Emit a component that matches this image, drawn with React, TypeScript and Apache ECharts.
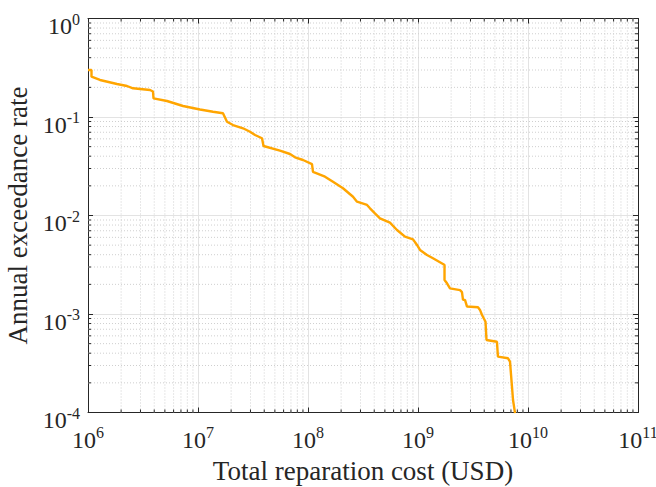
import React, { useEffect, useRef } from "react";
import * as echarts from "echarts";

// Exceedance curve
const costUSD = [
  1.0e6, 1.076e6, 1.076e6, 1.285e6, 1.835e6, 2.262e6, 2.566e6, 3.662e6, 3.899e6, 3.94e6,
  5.224e6, 7.31e6, 1.043e7, 1.368e7, 1.687e7, 1.835e7, 2.08e7, 2.566e7, 2.97e7, 3.3e7,
  3.82e7, 3.94e7, 5.56e7, 6.86e7, 7.62e7, 9.01e7, 1.087e8, 1.11e8, 1.427e8, 1.687e8,
  2.08e8, 2.566e8, 2.79e8, 3.44e8, 3.66e8, 4.06e8, 4.51e8, 5.56e8, 6.44e8, 7.62e8,
  9.01e8, 9.79e8, 1.043e9, 1.207e9, 1.368e9, 1.687e9, 1.742e9, 1.742e9, 1.835e9, 1.954e9,
  2.41e9, 2.51e9, 2.566e9, 2.674e9, 2.79e9, 3.51e9, 3.66e9, 3.82e9, 4.11e9, 4.195e9,
  5.22e9, 5.33e9, 6.58e9, 6.86e9, 7.31e9, 7.62e9,
];
const exceedanceRate = [
  0.3, 0.3, 0.2565, 0.2376, 0.2163, 0.2064, 0.1956, 0.188, 0.1815, 0.1548,
  0.1453, 0.1293, 0.1192, 0.1132, 0.1091, 0.0896, 0.0829, 0.0768, 0.0709, 0.0657,
  0.0608, 0.0508, 0.0455, 0.0421, 0.039, 0.0366, 0.0333, 0.0277, 0.0248, 0.022,
  0.0189, 0.0155, 0.0138, 0.0128, 0.01183, 0.01052, 0.00937, 0.00845, 0.00713, 0.0061,
  0.00573, 0.00502, 0.00447, 0.00397, 0.00368, 0.00322, 0.00314, 0.00221, 0.00205, 0.00182,
  0.00175, 0.00167, 0.00139, 0.00139, 0.00119, 0.00117, 0.0011, 0.000977, 0.000835, 0.000545,
  0.000523, 0.000369, 0.000355, 0.000328, 0.000134, 0.0000985,
];

const xTickExponents = [6, 7, 8, 9, 10, 11];
const yTickExponents = [0, -1, -2, -3, -4];
const xTitle = "Total reparation cost (USD)";
const yTitle = "Annual exceedance rate";

const X_MIN = Math.pow(10, xTickExponents[0]);
const X_MAX = Math.pow(10, xTickExponents[xTickExponents.length - 1]);
const Y_MIN = Math.pow(10, yTickExponents[yTickExponents.length - 1]);
const Y_MAX = Math.pow(10, yTickExponents[0]);

const FONT = "Liberation Serif";
const TXT = "#262626";
const AX = "#262626";

function minorValues(lo: number, hi: number): number[] {
  const out: number[] = [];
  for (let e = lo; e < hi; e++) {
    for (let m = 2; m <= 9; m++) out.push(m * Math.pow(10, e));
  }
  return out;
}

const labelFmt = (v: number) => {
  const e = Math.round(Math.log10(v));
  return `{b|10}{s|${e}}`;
};

const rich = {
  b: { fontSize: 24, lineHeight: 27, fontFamily: FONT, color: TXT, verticalAlign: "bottom" },
  s: { fontSize: 16, lineHeight: 16, fontFamily: FONT, color: TXT, verticalAlign: "top" },
};

export default function App() {
  const ref = useRef<HTMLDivElement>(null);
  useEffect(() => {
    if (!ref.current) return;
    const chart = echarts.init(ref.current, null, { renderer: "svg" });

    const xMinor = minorValues(xTickExponents[0], xTickExponents[xTickExponents.length - 1]);
    const yMinor = minorValues(yTickExponents[yTickExponents.length - 1], yTickExponents[0]);

    const minorStyle = { stroke: "#cfcfcf", lineWidth: 1, lineDash: [1, 2] };
    const tickStyle = { stroke: AX, lineWidth: 1 };

    const commonX = {
      type: "log",
      logBase: 10,
      min: X_MIN,
      max: X_MAX,
      axisLine: { show: true, lineStyle: { color: AX, width: 1 } },
      axisTick: { show: true, inside: true, length: 5, lineStyle: { color: AX } },
    };
    const commonY = {
      type: "log",
      logBase: 10,
      min: Y_MIN,
      max: Y_MAX,
      axisLine: { show: true, lineStyle: { color: AX, width: 1 } },
      axisTick: { show: true, inside: true, length: 5, lineStyle: { color: AX } },
    };

    chart.setOption({
      animation: false,
      backgroundColor: "#ffffff",
      grid: {
        left: 88,
        right: 18,
        top: 18.5,
        bottom: 74.5,
        containLabel: false,
        outerBoundsMode: "none",
      },
      xAxis: [
        {
          ...commonX,
          position: "bottom",
          name: xTitle,
          nameLocation: "middle",
          nameGap: 45,
          nameTextStyle: { fontFamily: FONT, fontSize: 27, color: TXT },
          axisLabel: { show: true, margin: 12, fontFamily: FONT, fontSize: 24, color: TXT, formatter: labelFmt, rich },
          splitLine: { show: true, lineStyle: { color: "#e3e3e3", width: 1 } },
        },
        {
          ...commonX,
          position: "top",
          axisLabel: { show: false },
          splitLine: { show: false },
        },
      ],
      yAxis: [
        {
          ...commonY,
          position: "left",
          name: yTitle,
          nameLocation: "middle",
          nameGap: 50,
          nameTextStyle: { fontFamily: FONT, fontSize: 27, color: TXT },
          axisLabel: {
            show: true,
            margin: 8,
            fontFamily: FONT,
            fontSize: 24,
            color: TXT,
            formatter: labelFmt,
            rich,
            verticalAlign: "middle",
            padding: [12, 0, 0, 0],
          },
          splitLine: { show: true, lineStyle: { color: "#e3e3e3", width: 1 } },
        },
        {
          ...commonY,
          position: "right",
          axisLabel: { show: false },
          splitLine: { show: false },
        },
      ],
      series: [
        {
          type: "custom",
          z: 1,
          silent: true,
          xAxisIndex: 0,
          yAxisIndex: 0,
          data: xMinor.map((v) => [v, Y_MIN]),
          renderItem: (params: any, api: any) => {
            const xv = api.value(0);
            const p1 = api.coord([xv, Y_MIN]);
            const p2 = api.coord([xv, Y_MAX]);
            return {
              type: "group",
              children: [
                { type: "line", shape: { x1: p1[0], y1: p1[1], x2: p2[0], y2: p2[1] }, style: minorStyle },
                { type: "line", shape: { x1: p1[0], y1: p1[1], x2: p1[0], y2: p1[1] - 3 }, style: tickStyle },
                { type: "line", shape: { x1: p2[0], y1: p2[1], x2: p2[0], y2: p2[1] + 3 }, style: tickStyle },
              ],
            };
          },
        },
        {
          type: "custom",
          z: 1,
          silent: true,
          xAxisIndex: 0,
          yAxisIndex: 0,
          data: yMinor.map((v) => [X_MIN, v]),
          renderItem: (params: any, api: any) => {
            const yv = api.value(1);
            const p1 = api.coord([X_MIN, yv]);
            const p2 = api.coord([X_MAX, yv]);
            return {
              type: "group",
              children: [
                { type: "line", shape: { x1: p1[0], y1: p1[1], x2: p2[0], y2: p2[1] }, style: minorStyle },
                { type: "line", shape: { x1: p1[0], y1: p1[1], x2: p1[0] + 3, y2: p1[1] }, style: tickStyle },
                { type: "line", shape: { x1: p2[0], y1: p2[1], x2: p2[0] - 3, y2: p2[1] }, style: tickStyle },
              ],
            };
          },
        },
        {
          type: "line",
          z: 3,
          xAxisIndex: 0,
          yAxisIndex: 0,
          clip: true,
          showSymbol: false,
          symbol: "none",
          data: costUSD.map((c, i) => [c, exceedanceRate[i]]),
          lineStyle: { color: "#FFA500", width: 2.4 },
          itemStyle: { color: "#FFA500" },
        },
      ],
    });
    return () => chart.dispose();
  }, []);

  return (
    <div
      ref={ref}
      style={{ position: "fixed", left: 0, top: 0, width: 656, height: 487, background: "#fff" }}
    />
  );
}
